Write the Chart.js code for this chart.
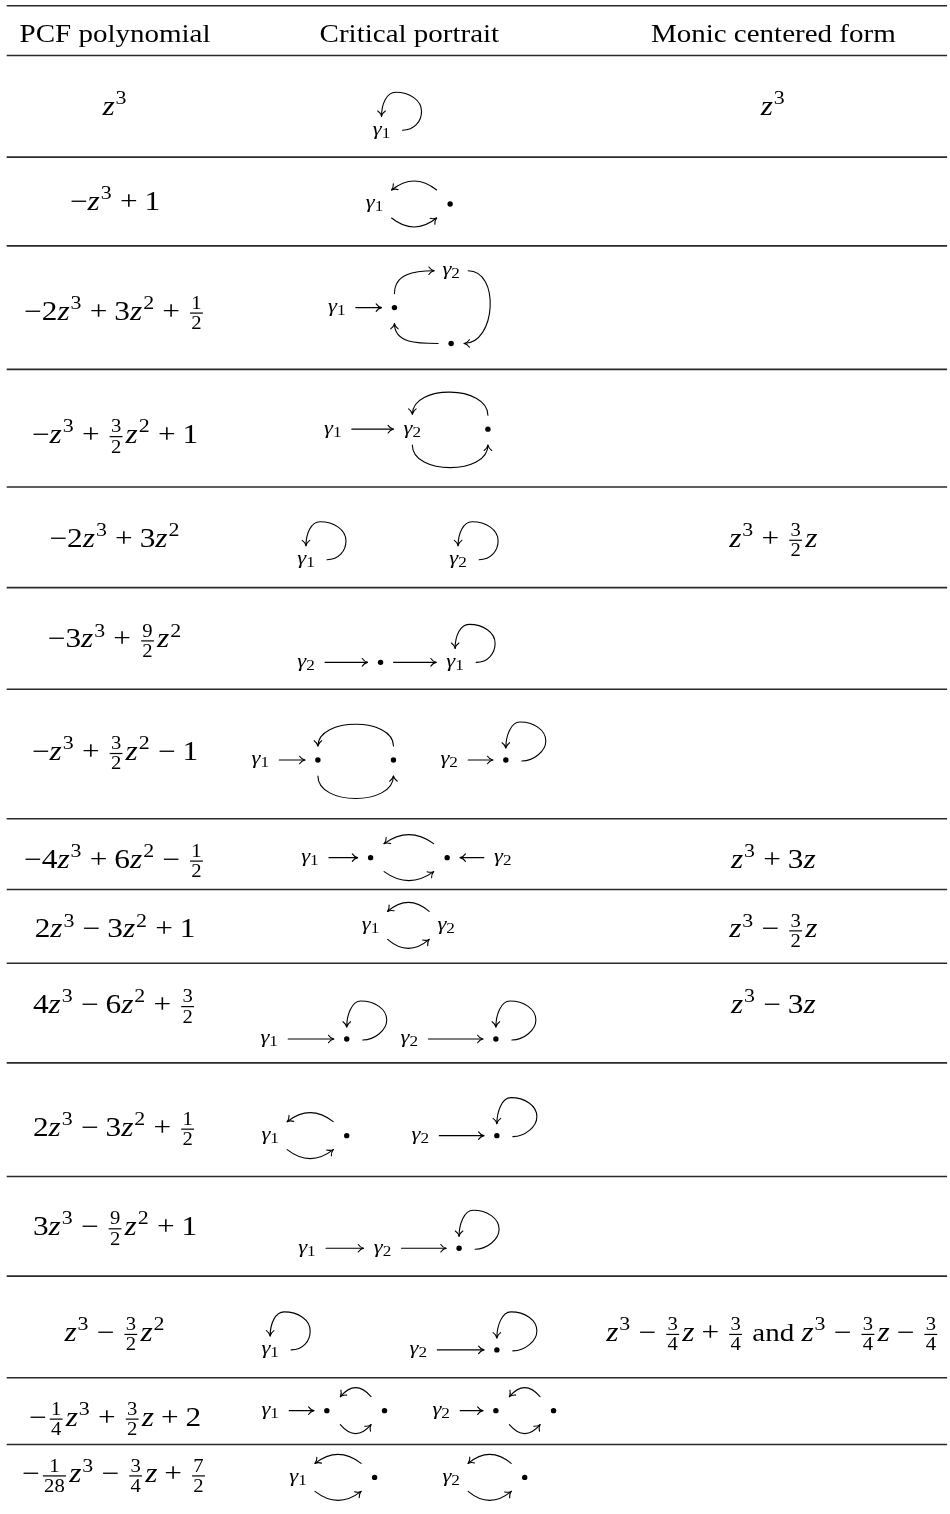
<!DOCTYPE html>
<html lang="en">
<head>
<meta charset="utf-8">
<title>PCF cubic polynomials</title>
<script src="https://cdn.jsdelivr.net/npm/chart.js@4.4.1/dist/chart.umd.min.js"></script>
<style>
  html, body { margin: 0; padding: 0; background: #ffffff; }
  #box { width: 950px; height: 1514px; }
</style>
</head>
<body>
<div id="box"><canvas id="table"></canvas></div>
<script>
// ---- table content ----
const headers = ['PCF polynomial', 'Critical portrait', 'Monic centered form'];

// '^d' is a superscript, '{a/b}' a fraction
const pcfPolynomials = [
  'z^3', '-z^3+1', '-2z^3+3z^2+{1/2}', '-z^3+{3/2}z^2+1', '-2z^3+3z^2',
  '-3z^3+{9/2}z^2', '-z^3+{3/2}z^2-1', '-4z^3+6z^2-{1/2}', '2z^3-3z^2+1',
  '4z^3-6z^2+{3/2}', '2z^3-3z^2+{1/2}', '3z^3-{9/2}z^2+1', 'z^3-{3/2}z^2',
  '-{1/4}z^3+{3/2}z+2', '-{1/28}z^3-{3/4}z+{7/2}'
];

const monicForms = [
  'z^3', '', '', '', 'z^3+{3/2}z', '', '', 'z^3+3z', 'z^3-{3/2}z', 'z^3-3z',
  '', '', 'z^3-{3/4}z+{3/4} and z^3-{3/4}z-{3/4}', '', ''
];

// nodes of each critical portrait
const portraitNodes = [
  ['γ1'],
  ['γ1', '•'],
  ['γ1', '•', 'γ2', '•'],
  ['γ1', 'γ2', '•'],
  ['γ1', 'γ2'],
  ['γ2', '•', 'γ1'],
  ['γ1', '•', '•', 'γ2', '•'],
  ['γ1', '•', '•', 'γ2'],
  ['γ1', 'γ2'],
  ['γ1', '•', 'γ2', '•'],
  ['γ1', '•', 'γ2', '•'],
  ['γ1', 'γ2', '•'],
  ['γ1', 'γ2', '•'],
  ['γ1', '•', '•', 'γ2', '•', '•'],
  ['γ1', '•', 'γ2', '•']
];

// arrows [from, to] between those nodes
const portraitArrows = [
  [[0, 0]],
  [[1, 0], [0, 1]],
  [[0, 1], [1, 2], [2, 3], [3, 1]],
  [[0, 1], [2, 1], [1, 2]],
  [[0, 0], [1, 1]],
  [[0, 1], [1, 2], [2, 2]],
  [[0, 1], [2, 1], [1, 2], [3, 4], [4, 4]],
  [[0, 1], [2, 1], [1, 2], [3, 2]],
  [[1, 0], [0, 1]],
  [[0, 1], [1, 1], [2, 3], [3, 3]],
  [[1, 0], [0, 1], [2, 3], [3, 3]],
  [[0, 1], [1, 2], [2, 2]],
  [[0, 0], [1, 2], [2, 2]],
  [[0, 1], [2, 1], [1, 2], [3, 4], [5, 4], [4, 5]],
  [[1, 0], [0, 1], [3, 2], [2, 3]]
];

// ---- layout, in table units (one unit per pixel) ----
const tableLeft = 4, tableRight = 950;
const ruleYs = [3, 53, 155, 244, 368, 486, 587, 689, 819, 890, 964, 1064, 1178, 1278, 1380, 1447];
const headerY = 39;
const columnX = [113, 409, 775];
const rowBaselines = [113, 208, 318, 442, 546, 647, 760, 868, 938, 1014, 1137, 1237, 1343, 1428, 1485];

const nodeXY = [
  [[381, 128]],
  [[374, 202], [450, 202]],
  [[336, 306], [394, 306], [451, 269], [451, 342]],
  [[332, 428], [412, 428], [488, 428]],
  [[305, 559], [458, 559]],
  [[305, 662], [380, 662], [455, 662]],
  [[259, 760], [317, 760], [393, 760], [449, 760], [506, 760]],
  [[309, 858], [370, 858], [447, 858], [503, 858]],
  [[370, 926], [446, 926]],
  [[268, 1040], [346, 1040], [409, 1040], [496, 1040]],
  [[269, 1137], [346, 1137], [420, 1137], [497, 1137]],
  [[306, 1250], [382, 1250], [459, 1250]],
  [[269, 1352], [418, 1352], [497, 1352]],
  [[269, 1413], [326, 1413], [384, 1413], [441, 1413], [496, 1413], [554, 1413]],
  [[297, 1480], [374, 1480], [451, 1480], [525, 1480]]
];

// curved arrows that leave / enter a node by a given side: [out, in, pull]
const curvedRoutes = {
  2: { '1-2': ['up', 'left', 20], '2-3': ['right', 'right', 32], '3-1': ['left', 'down', 20] },
  3: { '2-1': ['up', 'up', 30], '1-2': ['down', 'down', 30] },
  6: { '2-1': ['up', 'up', 29], '1-2': ['down', 'down', 30] }
};

const SERIF = '"Liberation Serif", "Times New Roman", Times, serif';
const EM = 25;      // header and text size
const MEM = 27;     // formula size
const SX = 1.16;    // the picture is stretched sideways
const LABEL = 19.5; // portrait labels

// ---- typesetting helpers ----
function setFont(ctx, size, italic) {
  ctx.font = (italic ? 'italic ' : '') + size + 'px ' + SERIF;
}
function textWidth(ctx, s, size, italic) {
  setFont(ctx, size, italic);
  return ctx.measureText(s).width * SX;
}
function drawGlyph(ctx, s, x, y, size, italic) {
  setFont(ctx, size, italic);
  ctx.save();
  ctx.translate(x, y);
  ctx.scale(SX, 1);
  ctx.fillText(s, 0, 0);
  ctx.restore();
}

function parseMath(src) {
  const out = [];
  let i = 0;
  while (i < src.length) {
    const c = src[i];
    if (c === '{') {
      const j = src.indexOf('}', i);
      const [n, d] = src.slice(i + 1, j).split('/');
      out.push({ t: 'frac', n, d });
      i = j + 1;
    } else if (c === '^') {
      out.push({ t: 'sup', s: src[i + 1] });
      i += 2;
    } else if (c === '+' || c === '-') {
      const prev = out[out.length - 1];
      out.push({ t: prev && prev.t !== 'word' ? 'bin' : 'ord', s: c === '-' ? '\u2212' : '+' });
      i++;
    } else if (c === ' ') {
      const j = src.indexOf(' ', i + 1);
      out.push({ t: 'word', s: src.slice(i + 1, j) });
      i = j + 1;
    } else if (c === 'z') {
      out.push({ t: 'var', s: 'z' });
      i++;
    } else {
      let j = i;
      while (j < src.length && /[0-9]/.test(src[j])) j++;
      if (j === i) j = i + 1;
      out.push({ t: 'num', s: src.slice(i, j) });
      i = j;
    }
  }
  return out;
}

function layoutMath(ctx, src) {
  const ops = [], bars = [];
  const sp = k => k * MEM * SX;
  let x = 0;
  parseMath(src).forEach(t => {
    if (t.t === 'bin') {
      x += sp(0.222);
      ops.push({ s: t.s, x, dy: 0, size: MEM });
      x += textWidth(ctx, t.s, MEM) + sp(0.222);
    } else if (t.t === 'ord' || t.t === 'num') {
      ops.push({ s: t.s, x, dy: 0, size: MEM });
      x += textWidth(ctx, t.s, MEM);
    } else if (t.t === 'var') {
      ops.push({ s: t.s, x, dy: 0, size: MEM, italic: true });
      x += textWidth(ctx, t.s, MEM, true);
    } else if (t.t === 'sup') {
      x += sp(0.03);
      ops.push({ s: t.s, x, dy: -0.4 * MEM, size: 0.7 * MEM });
      x += textWidth(ctx, t.s, 0.7 * MEM) + sp(0.04);
    } else if (t.t === 'frac') {
      const fs = 0.66 * MEM;
      const wn = textWidth(ctx, t.n, fs), wd = textWidth(ctx, t.d, fs);
      const w = Math.max(wn, wd) + sp(0.08);
      x += sp(0.1);
      ops.push({ s: t.n, x: x + (w - wn) / 2, dy: -0.4 * MEM, size: fs });
      ops.push({ s: t.d, x: x + (w - wd) / 2, dy: 0.35 * MEM, size: fs });
      bars.push({ x, w, dy: -0.24 * MEM });
      x += w + sp(0.1);
    } else if (t.t === 'word') {
      x += EM * SX * 0.25;
      ops.push({ s: t.s, x, dy: 0, size: EM });
      x += textWidth(ctx, t.s, EM) + EM * SX * 0.25;
    }
  });
  return { ops, bars, width: x };
}

function drawMath(ctx, src, cx, base) {
  const lay = layoutMath(ctx, src);
  const x0 = cx - lay.width / 2;
  lay.ops.forEach(o => drawGlyph(ctx, o.s, x0 + o.x, base + o.dy, o.size, o.italic));
  lay.bars.forEach(b => ctx.fillRect(x0 + b.x, base + b.dy - 0.6, b.w, 1.2));
}

// ---- portrait helpers ----
function drawLabel(ctx, name, P) {
  const g = name[0], sub = name.slice(1);
  const subSize = LABEL * 0.76;
  const wg = textWidth(ctx, g, LABEL, true), ws = textWidth(ctx, sub, subSize);
  const x0 = P.x - (wg + ws) / 2, base = P.y + 4.5;
  drawGlyph(ctx, g, x0, base, LABEL, true);
  drawGlyph(ctx, sub, x0 + wg, base + 3, subSize);
}

function arrowHead(ctx, x, y, ang) {
  const L = 6.5, spread = 0.62;
  ctx.beginPath();
  [-1, 1].forEach(k => {
    const a = ang + Math.PI + k * spread;
    const c = ang + Math.PI + k * spread * 0.35;
    ctx.moveTo(x + L * Math.cos(a), y + L * Math.sin(a));
    ctx.quadraticCurveTo(x + 0.5 * L * Math.cos(c), y + 0.5 * L * Math.sin(c), x, y);
  });
  ctx.stroke();
}

const SIDES = { up: [0, -1], down: [0, 1], left: [-1, 0], right: [1, 0] };
function port(N, side) {
  const [dx, dy] = SIDES[side];
  const gx = N.dot ? 13 : 17;
  const gy = dy < 0 ? (N.dot ? 14 : 15) : 16;
  return { x: N.x + dx * gx, y: N.y + dy * gy };
}

function straightArrow(ctx, A, B) {
  const d = Math.sign(B.x - A.x);
  const x0 = A.x + d * (A.dot ? 13 : 19), x1 = B.x - d * (B.dot ? 13 : 19);
  ctx.beginPath();
  ctx.moveTo(x0, A.y);
  ctx.lineTo(x1, B.y);
  ctx.stroke();
  arrowHead(ctx, x1, B.y, d > 0 ? 0 : Math.PI);
}

function bendArrow(ctx, A, B) {
  const d = Math.sign(B.x - A.x);
  const s = d < 0 ? -1 : 1;            // right-to-left goes over the top
  const p0 = { x: A.x + d * (A.dot ? 13.5 : 17), y: A.y + s * 14 };
  const p1 = { x: B.x - d * (B.dot ? 13.5 : 17), y: B.y + s * 14 };
  const c = { x: (p0.x + p1.x) / 2, y: (p0.y + p1.y) / 2 + s * 18 };
  ctx.beginPath();
  ctx.moveTo(p0.x, p0.y);
  ctx.quadraticCurveTo(c.x, c.y, p1.x, p1.y);
  ctx.stroke();
  arrowHead(ctx, p1.x, p1.y, Math.atan2(p1.y - c.y, p1.x - c.x));
}

function routeArrow(ctx, A, B, [out, inn, k]) {
  const p0 = port(A, out), p3 = port(B, inn);
  const [ox, oy] = SIDES[out], [ix, iy] = SIDES[inn];
  ctx.beginPath();
  ctx.moveTo(p0.x, p0.y);
  ctx.bezierCurveTo(p0.x + ox * k, p0.y + oy * k, p3.x + ix * k, p3.y + iy * k, p3.x, p3.y);
  ctx.stroke();
  arrowHead(ctx, p3.x, p3.y, Math.atan2(-iy, -ix));
}

function loopArrow(ctx, N) {
  const s = { x: N.x + (N.dot ? 16 : 21), y: N.y + (N.dot ? 1 : 0) };
  const e = { x: N.x, y: N.y - (N.dot ? 12 : 14) };
  const r = { x: N.x + 40, y: N.y - 19 }, t = { x: N.x + 14, y: N.y - 38 };
  ctx.beginPath();
  ctx.moveTo(s.x, s.y);
  ctx.bezierCurveTo(s.x + 12, s.y, r.x, r.y + 10, r.x, r.y);
  ctx.bezierCurveTo(r.x, r.y - 11, t.x + 14, t.y, t.x, t.y);
  ctx.bezierCurveTo(t.x - 9, t.y, e.x, e.y - 12, e.x, e.y);
  ctx.stroke();
  arrowHead(ctx, e.x, e.y, Math.PI / 2);
}

function drawPortrait(ctx, r, X, Y) {
  const names = portraitNodes[r];
  const pts = nodeXY[r].map(([x, y], i) => ({ x: X(x), y: Y(y), dot: names[i] === '•' }));
  names.forEach((n, i) => { if (n !== '•') drawLabel(ctx, n, pts[i]); });
  const arrows = portraitArrows[r], routes = curvedRoutes[r] || {};
  ctx.lineWidth = 1.1;
  arrows.forEach(([a, b]) => {
    const A = pts[a], B = pts[b], key = a + '-' + b;
    if (a === b) loopArrow(ctx, A);
    else if (routes[key]) routeArrow(ctx, A, B, routes[key]);
    else if (arrows.some(([p, q]) => p === b && q === a)) bendArrow(ctx, A, B);
    else straightArrow(ctx, A, B);
  });
}

const tablePlugin = {
  id: 'tableText',
  afterDatasetsDraw(chart) {
    const ctx = chart.ctx;
    const X = v => chart.scales.x.getPixelForValue(v);
    const Y = v => chart.scales.y.getPixelForValue(v);
    ctx.save();
    ctx.fillStyle = '#000';
    ctx.strokeStyle = '#000';
    ctx.textBaseline = 'alphabetic';
    ctx.textAlign = 'left';
    ctx.lineCap = 'round';
    headers.forEach((h, c) => {
      const w = textWidth(ctx, h, EM);
      drawGlyph(ctx, h, X(columnX[c]) - w / 2, Y(headerY), EM);
    });
    pcfPolynomials.forEach((p, r) => drawMath(ctx, p, X(columnX[0]), Y(rowBaselines[r])));
    monicForms.forEach((m, r) => { if (m) drawMath(ctx, m, X(columnX[2]), Y(rowBaselines[r])); });
    portraitNodes.forEach((row, r) => drawPortrait(ctx, r, X, Y));
    ctx.restore();
  }
};

// ---- datasets: the rules and the bullets ----
const ruleSets = ruleYs.map(y => ({
  data: [{ x: tableLeft, y }, { x: tableRight, y }],
  showLine: true,
  borderColor: '#2a2a2a',
  borderWidth: 1.6,
  pointRadius: 0
}));

const dotPoints = [];
portraitNodes.forEach((row, r) => row.forEach((n, i) => {
  if (n === '•') dotPoints.push({ x: nodeXY[r][i][0], y: nodeXY[r][i][1] });
}));

new Chart(document.getElementById('table'), {
  type: 'scatter',
  data: {
    datasets: [...ruleSets, {
      data: dotPoints,
      pointRadius: 2.7,
      pointHoverRadius: 2.7,
      backgroundColor: '#000',
      borderWidth: 0
    }]
  },
  options: {
    responsive: true,
    maintainAspectRatio: false,
    animation: false,
    devicePixelRatio: 1,
    events: [],
    layout: { padding: 0 },
    scales: {
      x: { type: 'linear', min: 0, max: 950, display: false },
      y: { type: 'linear', min: 0, max: 1514, reverse: true, display: false }
    },
    plugins: { legend: { display: false }, tooltip: { enabled: false } }
  },
  plugins: [tablePlugin]
});
</script>
</body>
</html>
